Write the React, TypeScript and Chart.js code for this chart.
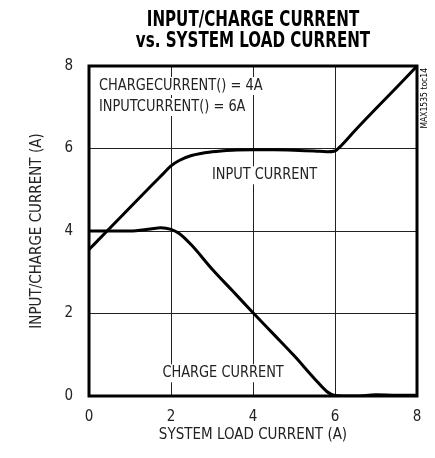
import React, { useEffect, useRef } from "react";
import { Chart, registerables } from "chart.js";
Chart.register(...registerables);

const inputLoad = [0, 0.5, 1, 1.5, 1.8, 2, 2.2, 2.5, 3, 3.5, 4, 4.5, 5, 5.5, 5.8, 6, 6.1, 6.5, 7, 7.5, 8];
const inputCurrent = [3.55, 4.06, 4.57, 5.08, 5.38, 5.58, 5.71, 5.83, 5.92, 5.96, 5.97, 5.97, 5.96, 5.94, 5.92, 5.94, 6.02, 6.45, 6.97, 7.48, 8.0];
const chargeLoad = [0, 0.5, 1, 1.5, 1.75, 2, 2.2, 2.5, 3, 3.5, 4, 4.5, 5, 5.5, 5.8, 6, 6.2, 6.5, 7, 7.5, 8];
const chargeCurrent = [4.0, 4.0, 4.0, 4.05, 4.08, 4.04, 3.94, 3.66, 3.08, 2.55, 2.02, 1.5, 0.98, 0.42, 0.11, 0.01, 0, 0, 0.03, 0.02, 0.02];
const xTicks = [0, 2, 4, 6, 8];
const yTicks = [0, 2, 4, 6, 8];
const titleLines = ["INPUT/CHARGE CURRENT", "vs. SYSTEM LOAD CURRENT"];
const xTitle = "SYSTEM LOAD CURRENT (A)";
const yTitle = "INPUT/CHARGE CURRENT (A)";
const noteLines = ["CHARGECURRENT() = 4A", "INPUTCURRENT() = 6A"];
const inputLabel = "INPUT CURRENT";
const chargeLabel = "CHARGE CURRENT";
const watermark = "MAX1535 toc14";

const FAMILY = "'Liberation Sans Narrow', 'DejaVu Sans Condensed', 'Roboto Condensed', sans-serif";

function narrowText(ctx: any, t: string, x: number, y: number, sx: number, align: "left" | "center") {
  const w = ctx.measureText(t).width * sx;
  const left = align === "center" ? x - w / 2 : x;
  ctx.save();
  ctx.translate(left, y);
  ctx.scale(sx, 1);
  ctx.textAlign = "left";
  ctx.fillText(t, 0, 0);
  ctx.restore();
  return { left, w };
}

const decorPlugin = {
  id: "decor",
  beforeDatasetsDraw(chart: any) {
    const { ctx, scales } = chart;
    const xs = scales.x;
    const ys = scales.y;
    ctx.save();
    ctx.font = `16px ${FAMILY}`;
    ctx.textBaseline = "middle";
    const sx = 0.9;
    const boxText = (t: string, x: number, y: number, align: "left" | "center") => {
      const w = ctx.measureText(t).width * sx;
      const left = align === "center" ? x - w / 2 : x;
      ctx.fillStyle = "#fff";
      ctx.fillRect(left - 3, y - 9, w + 6, 18);
      ctx.fillStyle = "#222";
      narrowText(ctx, t, left, y, sx, "left");
    };
    const ca = chart.chartArea;
    boxText(noteLines[0], ca.left + 10, ca.top + 20, "left");
    boxText(noteLines[1], ca.left + 10, ca.top + 41, "left");
    boxText(inputLabel, xs.getPixelForValue(4.28), ys.getPixelForValue(5.35), "center");
    boxText(chargeLabel, xs.getPixelForValue(3.27), ys.getPixelForValue(0.55), "center");
    ctx.restore();
  },
  afterDatasetsDraw(chart: any) {
    const { ctx } = chart;
    const ca = chart.chartArea;
    ctx.save();
    ctx.strokeStyle = "#000";
    ctx.lineWidth = 3;
    ctx.strokeRect(ca.left, ca.top, ca.right - ca.left, ca.bottom - ca.top);
    // title
    ctx.fillStyle = "#000";
    ctx.textBaseline = "middle";
    ctx.font = `bold 21px ${FAMILY}`;
    const cx = (ca.left + ca.right) / 2;
    narrowText(ctx, titleLines[0], cx, 21, 0.8, "center");
    narrowText(ctx, titleLines[1], cx, 42, 0.8, "center");
    // watermark
    ctx.font = `8.5px ${FAMILY}`;
    ctx.translate(ca.right + 8, ca.top + 2);
    ctx.rotate(-Math.PI / 2);
    ctx.textAlign = "right";
    ctx.fillText(watermark, 0, 0);
    ctx.restore();
  },
};

export default function App() {
  const ref = useRef<HTMLCanvasElement>(null);
  useEffect(() => {
    document.body.style.margin = "0";
    const chart = new Chart(ref.current as HTMLCanvasElement, {
      type: "line",
      data: {
        datasets: [
          {
            label: "Input current",
            data: inputLoad.map((x, i) => ({ x, y: inputCurrent[i] })),
            borderColor: "#000",
            borderWidth: 3,
            pointRadius: 0,
            cubicInterpolationMode: "monotone",
          },
          {
            label: "Charge current",
            data: chargeLoad.map((x, i) => ({ x, y: chargeCurrent[i] })),
            borderColor: "#000",
            borderWidth: 3,
            pointRadius: 0,
            cubicInterpolationMode: "monotone",
          },
        ],
      },
      options: {
        animation: false,
        responsive: false,
        devicePixelRatio: 1,
        layout: { padding: { top: 66, right: 18, left: 0, bottom: 0 } },
        plugins: { legend: { display: false }, tooltip: { enabled: false }, title: { display: false } },
        scales: {
          x: {
            type: "linear",
            min: 0,
            max: 8,
            afterFit: (s: any) => { s.height = 62; },
            afterBuildTicks: (s: any) => { s.ticks = xTicks.map((v) => ({ value: v })); },
            grid: { color: "#222", lineWidth: 1, drawTicks: false },
            border: { display: false },
            ticks: { padding: 12, color: "#222", font: { family: FAMILY, size: 15 } },
            title: { display: true, text: xTitle, color: "#222", font: { family: FAMILY, size: 15 }, padding: { top: 0, bottom: 14 } },
          },
          y: {
            type: "linear",
            min: 0,
            max: 8,
            afterFit: (s: any) => { s.width = 89; },
            afterBuildTicks: (s: any) => { s.ticks = yTicks.map((v) => ({ value: v })); },
            grid: { color: "#222", lineWidth: 1, drawTicks: false },
            border: { display: false },
            ticks: { padding: 16, color: "#222", font: { family: FAMILY, size: 15 } },
            title: { display: true, text: yTitle, color: "#222", font: { family: FAMILY, size: 15 }, padding: { top: 28, bottom: 0 } },
          },
        },
      },
      plugins: [decorPlugin],
    });
    return () => chart.destroy();
  }, []);
  return (
    <div style={{ position: "fixed", left: 0, top: 0, width: 435, height: 458, background: "#fff" }}>
      <canvas ref={ref} width={435} height={458} />
    </div>
  );
}
